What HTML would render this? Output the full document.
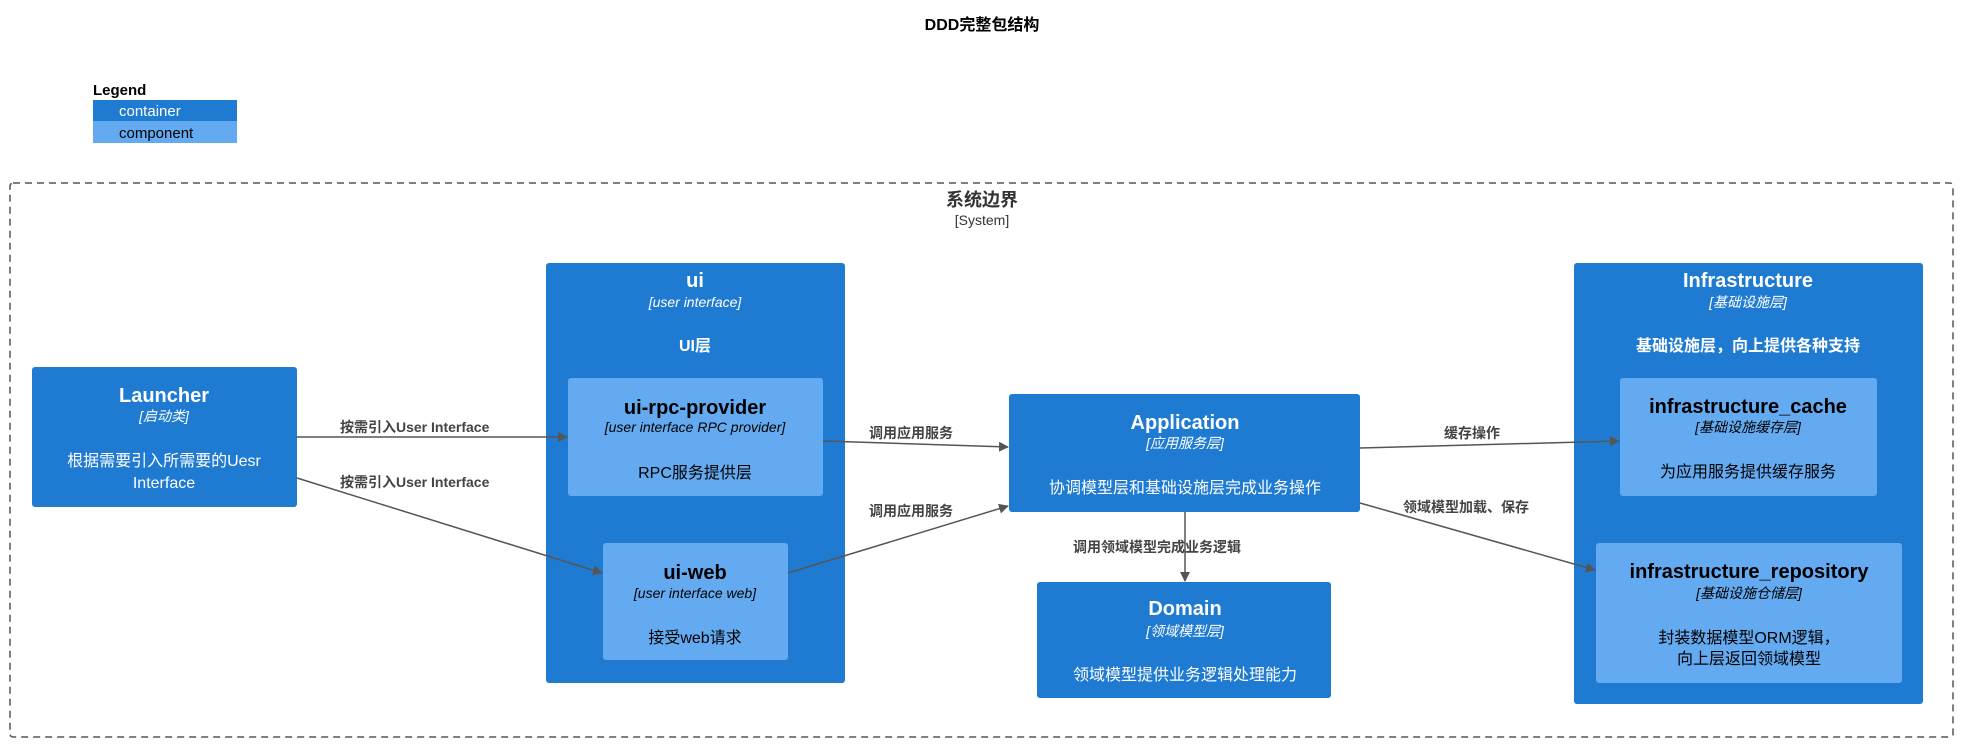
<!DOCTYPE html>
<html><head><meta charset="utf-8"><style>
html,body{margin:0;padding:0;background:#fff;}
svg{display:block;font-family:"Liberation Sans","Noto Sans CJK SC",sans-serif;}
.t{font-weight:bold;font-size:20px;text-anchor:middle}
.s{font-style:italic;font-size:14px;text-anchor:middle}
.d{font-size:16px;text-anchor:middle}
.w{fill:#fff}.k{fill:#000}
.l{font-size:14px;fill:#444;font-weight:bold}
</style></head><body>
<svg width="1965" height="744" viewBox="0 0 1965 744">
<defs><marker id="a" markerWidth="10" markerHeight="10" refX="9" refY="5" orient="auto" markerUnits="userSpaceOnUse"><path d="M0,0 L10,5 L0,10 Z" fill="#555"/></marker></defs>
<text x="982" y="30" font-size="16" font-weight="bold" text-anchor="middle">DDD完整包结构</text>
<text x="93" y="95" font-size="15" font-weight="bold">Legend</text>
<rect x="93" y="100" width="144" height="21" fill="#1f7bd2"/>
<rect x="93" y="121" width="144" height="22" fill="#63aaf0"/>
<text x="119" y="116" font-size="15" fill="#fff">container</text>
<text x="119" y="138" font-size="15" fill="#000">component</text>
<rect x="10" y="183" width="1943" height="554" fill="none" stroke="#555" stroke-width="1.5" stroke-dasharray="7,5" rx="3"/>
<text x="982" y="206" font-size="18" font-weight="bold" text-anchor="middle" fill="#333">系统边界</text>
<text x="982" y="225" font-size="14" text-anchor="middle" fill="#333">[System]</text>

<rect x="32" y="367" width="265" height="140" rx="3" fill="#1f7bd2"/>
<text class="t w" x="164" y="402">Launcher</text>
<text class="s w" x="164" y="421">[启动类]</text>
<text class="d w" x="164" y="466">根据需要引入所需要的Uesr</text>
<text class="d w" x="164" y="488">Interface</text>

<rect x="546" y="263" width="299" height="420" rx="3" fill="#1f7bd2"/>
<text class="t w" x="695" y="287">ui</text>
<text class="s w" x="695" y="307">[user interface]</text>
<text class="d w" x="695" y="351" font-weight="bold">UI层</text>
<rect x="568" y="378" width="255" height="118" rx="3" fill="#63aaf0"/>
<text class="t k" x="695" y="414">ui-rpc-provider</text>
<text class="s k" x="695" y="432">[user interface RPC provider]</text>
<text class="d k" x="695" y="478">RPC服务提供层</text>
<rect x="603" y="543" width="185" height="117" rx="3" fill="#63aaf0"/>
<text class="t k" x="695" y="579">ui-web</text>
<text class="s k" x="695" y="598">[user interface web]</text>
<text class="d k" x="695" y="643">接受web请求</text>

<rect x="1009" y="394" width="351" height="118" rx="3" fill="#1f7bd2"/>
<text class="t w" x="1185" y="429">Application</text>
<text class="s w" x="1185" y="448">[应用服务层]</text>
<text class="d w" x="1185" y="493">协调模型层和基础设施层完成业务操作</text>

<rect x="1037" y="582" width="294" height="116" rx="3" fill="#1f7bd2"/>
<text class="t w" x="1185" y="615">Domain</text>
<text class="s w" x="1185" y="636">[领域模型层]</text>
<text class="d w" x="1185" y="680">领域模型提供业务逻辑处理能力</text>

<rect x="1574" y="263" width="349" height="441" rx="3" fill="#1f7bd2"/>
<text class="t w" x="1748" y="287">Infrastructure</text>
<text class="s w" x="1748" y="307">[基础设施层]</text>
<text class="d w" x="1748" y="351" font-weight="bold">基础设施层，向上提供各种支持</text>
<rect x="1620" y="378" width="257" height="118" rx="3" fill="#63aaf0"/>
<text class="t k" x="1748" y="413">infrastructure_cache</text>
<text class="s k" x="1748" y="432">[基础设施缓存层]</text>
<text class="d k" x="1748" y="477">为应用服务提供缓存服务</text>
<rect x="1596" y="543" width="306" height="140" rx="3" fill="#63aaf0"/>
<text class="t k" x="1749" y="578">infrastructure_repository</text>
<text class="s k" x="1749" y="598">[基础设施仓储层]</text>
<text class="d k" x="1749" y="643">封装数据模型ORM逻辑，</text>
<text class="d k" x="1749" y="664">向上层返回领域模型</text>

<g stroke="#555" stroke-width="1.5" fill="none" marker-end="url(#a)">
<line x1="297" y1="437" x2="567" y2="437"/>
<line x1="297" y1="478" x2="602" y2="573"/>
<line x1="823" y1="441" x2="1008" y2="447"/>
<line x1="788" y1="573" x2="1008" y2="506"/>
<line x1="1185" y1="512" x2="1185" y2="581"/>
<line x1="1360" y1="448" x2="1619" y2="441"/>
<line x1="1360" y1="503" x2="1595" y2="570"/>
</g>
<text class="l" x="340" y="432">按需引入User Interface</text>
<text class="l" x="340" y="487">按需引入User Interface</text>
<text class="l" x="869" y="438">调用应用服务</text>
<text class="l" x="869" y="516">调用应用服务</text>
<text class="l" x="1073" y="552">调用领域模型完成业务逻辑</text>
<text class="l" x="1444" y="438">缓存操作</text>
<text class="l" x="1403" y="512">领域模型加载、保存</text>
</svg>
</body></html>
